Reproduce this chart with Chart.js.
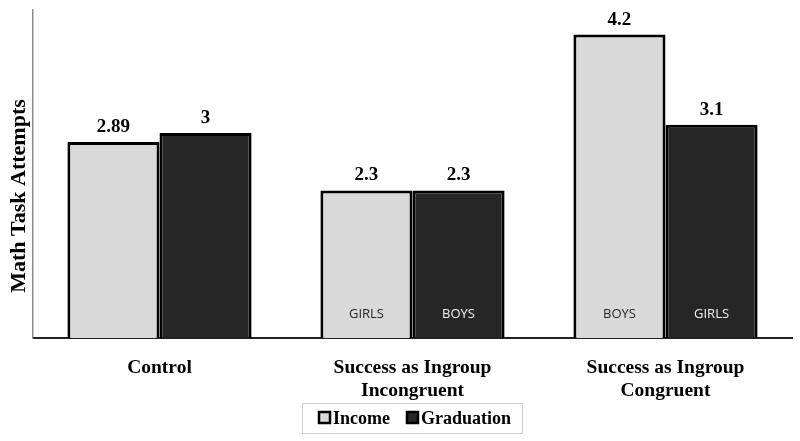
<!DOCTYPE html>
<html><head><meta charset="utf-8">
<script src="https://cdn.jsdelivr.net/npm/chart.js@4"></script>
<style>html,body{margin:0;padding:0;background:#fff}#wrap{width:800px;height:441px}</style>
</head><body><div id="wrap"><canvas id="c" width="800" height="441"></canvas></div>
<script>
const categories = [["Control"], ["Success as Ingroup", "Incongruent"], ["Success as Ingroup", "Congruent"]];
const seriesNames = ["Income", "Graduation"];
const incomeValues = [2.89, 2.3, 4.2];
const graduationValues = [3, 2.3, 3.1];
const incomeInner = ["", "GIRLS", "BOYS"];
const graduationInner = ["", "BOYS", "GIRLS"];
const yTitle = "Math Task Attempts";

const SERIF = '"Liberation Serif", "Times New Roman", serif';

const labelsPlugin = {
  id: 'labels',
  afterDatasetsDraw(chart) {
    const ctx = chart.ctx;
    const inner = [incomeInner, graduationInner];
    const innerColor = ['#262626', '#f2f2f2'];
    chart.data.datasets.forEach((ds, di) => {
      const meta = chart.getDatasetMeta(di);
      meta.data.forEach((bar, i) => {
        ctx.save();
        ctx.font = 'bold 19px ' + SERIF;
        ctx.fillStyle = '#000';
        ctx.textAlign = 'center';
        ctx.textBaseline = 'alphabetic';
        ctx.fillText(String(ds.data[i]), bar.x, bar.y - 10);
        if (inner[di][i]) {
          ctx.font = '13px "Open Sans", sans-serif';
          ctx.fillStyle = innerColor[di];
          ctx.textBaseline = 'middle';
          ctx.fillText(inner[di][i], bar.x, 314);
        }
        ctx.restore();
      });
    });
    // y title
    ctx.save();
    ctx.translate(19, 196);
    ctx.rotate(-Math.PI / 2);
    ctx.font = 'bold 22px ' + SERIF;
    ctx.fillStyle = '#000';
    ctx.textAlign = 'center';
    ctx.textBaseline = 'middle';
    ctx.fillText(yTitle, 0, 0);
    ctx.restore();
    // legend
    ctx.save();
    ctx.strokeStyle = '#d0d0d0';
    ctx.lineWidth = 1;
    ctx.strokeRect(302.5, 403.5, 220, 30);
    ctx.font = 'bold 18px ' + SERIF;
    ctx.textBaseline = 'middle';
    ctx.textAlign = 'left';
    let x = 319;
    chart.data.datasets.forEach((ds) => {
      ctx.fillStyle = ds.backgroundColor;
      ctx.fillRect(x, 412, 11, 11);
      ctx.strokeStyle = '#000';
      ctx.lineWidth = 2.5;
      ctx.strokeRect(x, 412, 11, 11);
      ctx.fillStyle = '#000';
      ctx.fillText(ds.label, x + 14, 419);
      x += 14 + ctx.measureText(ds.label).width + 17;
    });
    ctx.restore();
  }
};

new Chart(document.getElementById('c'), {
  type: 'bar',
  data: {
    labels: categories,
    datasets: [
      { label: seriesNames[0], data: incomeValues, backgroundColor: '#d9d9d9', borderColor: '#000', borderWidth: 3 },
      { label: seriesNames[1], data: graduationValues, backgroundColor: '#262626', borderColor: '#000', borderWidth: 3 }
    ]
  },
  options: {
    responsive: false,
    animation: false,
    layout: { padding: { top: 10, right: 8, left: 0, bottom: 0 } },
    datasets: { bar: { categoryPercentage: 0.728, barPercentage: 1 } },
    plugins: { legend: { display: false }, tooltip: { enabled: false } },
    scales: {
      x: {
        grid: { display: false, drawTicks: false },
        border: { display: true, color: '#222', width: 2 },
        ticks: { color: '#000', font: { family: SERIF, size: 19.5, weight: 'bold', lineHeight: 1.15 }, padding: 19, maxRotation: 0, autoSkip: false },
        afterFit(s) { s.height = 103; }
      },
      y: {
        min: 0.5, max: 4.5,
        grid: { display: false, drawTicks: false },
        border: { display: true, color: '#8c8c8c', width: 1.5 },
        ticks: { display: false },
        title: { display: false, text: yTitle },
        afterFit(s) { s.width = 33; }
      }
    }
  },
  plugins: [labelsPlugin]
});
</script></body></html>
